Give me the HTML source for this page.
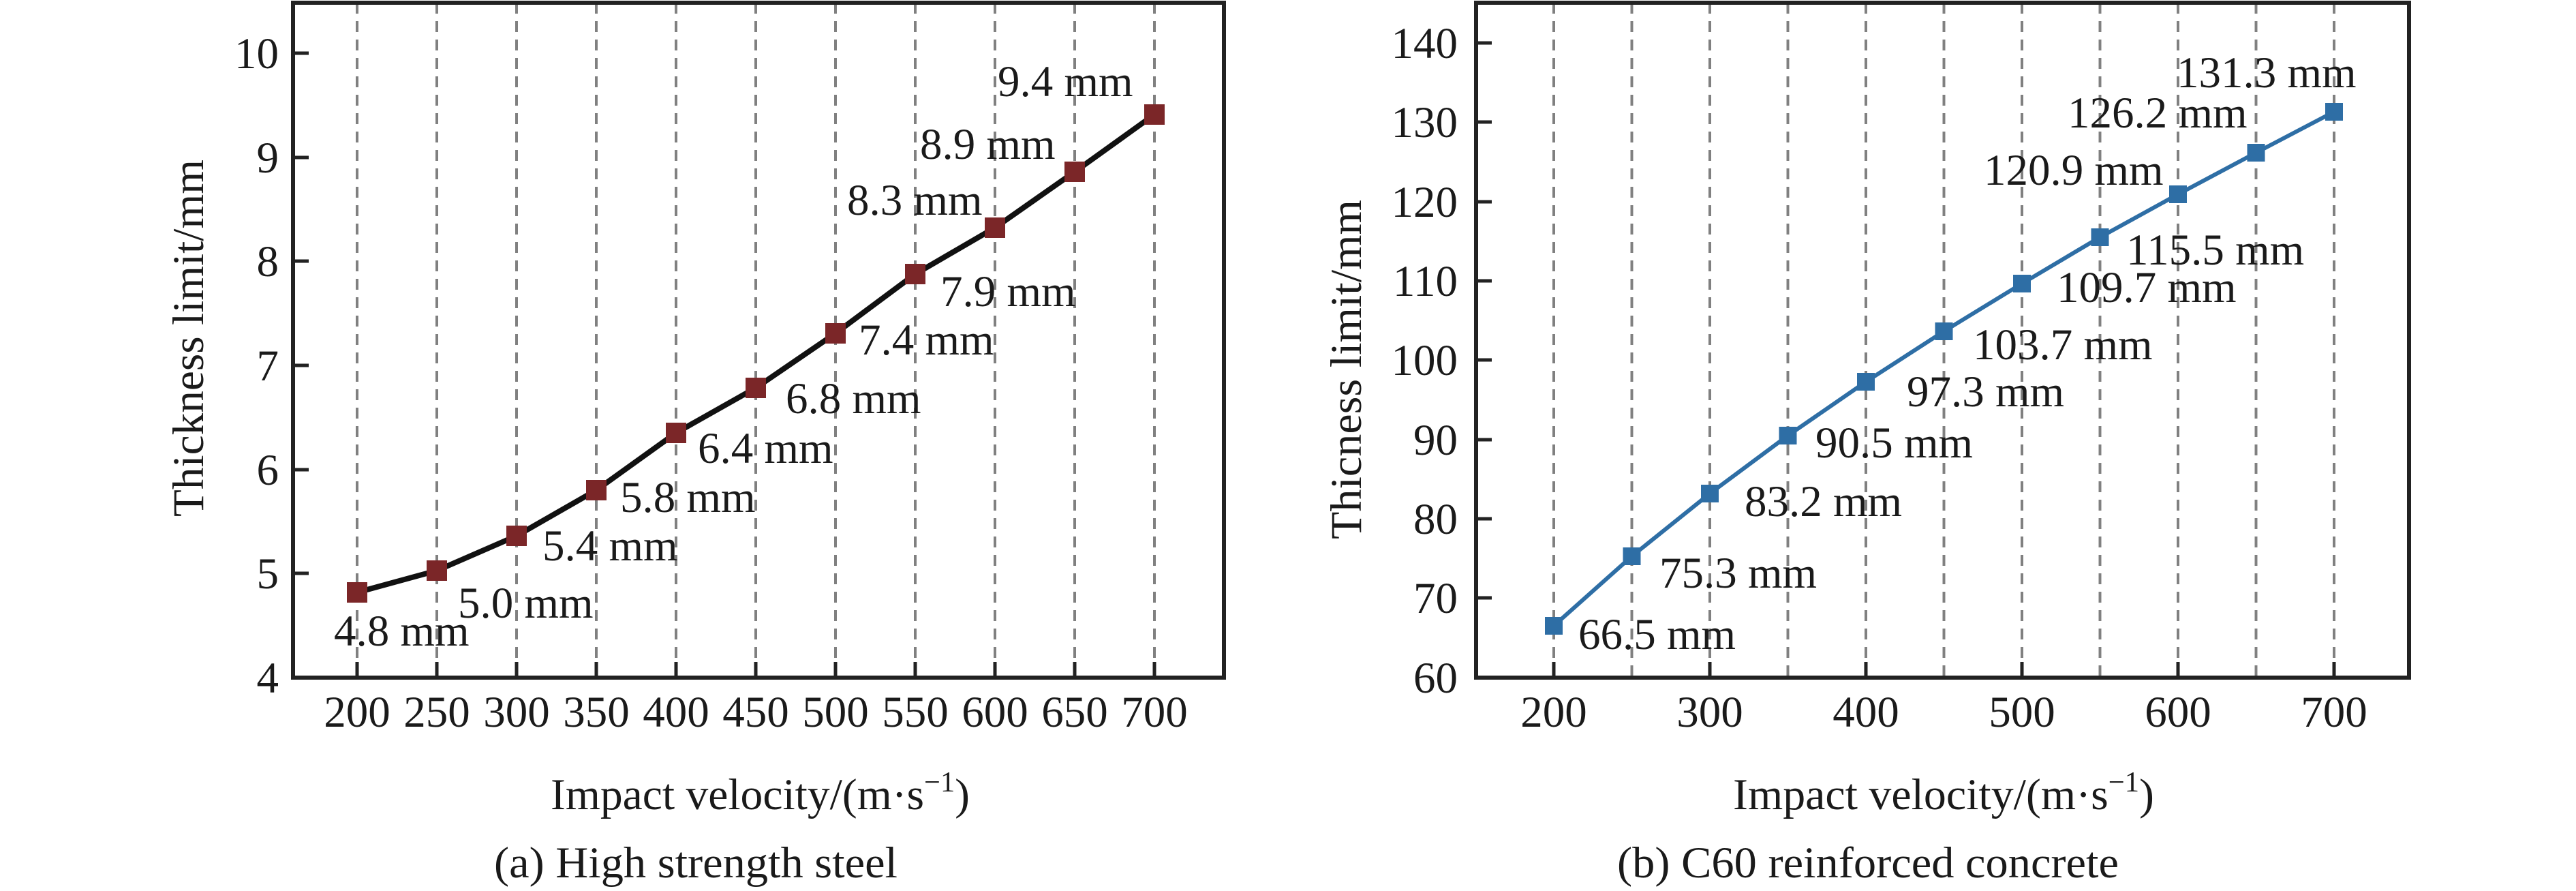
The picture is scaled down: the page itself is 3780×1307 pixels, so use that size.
<!DOCTYPE html>
<html><head><meta charset="utf-8"><style>
html,body{margin:0;padding:0;background:#fff;}
svg{display:block;}
text{font-family:"Liberation Serif",serif;fill:#1a1a1a;}
</style></head><body>
<svg width="3780" height="1307" viewBox="0 0 3780 1307" xmlns="http://www.w3.org/2000/svg">
<!-- LEFT PLOT -->
<g stroke="#808080" stroke-width="4" stroke-dasharray="16,11">
<line x1="524" y1="4" x2="524" y2="994"/><line x1="641" y1="4" x2="641" y2="994"/><line x1="758" y1="4" x2="758" y2="994"/><line x1="875" y1="4" x2="875" y2="994"/><line x1="992" y1="4" x2="992" y2="994"/><line x1="1109" y1="4" x2="1109" y2="994"/><line x1="1226" y1="4" x2="1226" y2="994"/><line x1="1343" y1="4" x2="1343" y2="994"/><line x1="1460" y1="4" x2="1460" y2="994"/><line x1="1577" y1="4" x2="1577" y2="994"/><line x1="1694" y1="4" x2="1694" y2="994"/>
</g>
<g stroke="#222" stroke-width="5">
<line x1="524" y1="994" x2="524" y2="971"/><line x1="641" y1="994" x2="641" y2="971"/><line x1="758" y1="994" x2="758" y2="971"/><line x1="875" y1="994" x2="875" y2="971"/><line x1="992" y1="994" x2="992" y2="971"/><line x1="1109" y1="994" x2="1109" y2="971"/><line x1="1226" y1="994" x2="1226" y2="971"/><line x1="1343" y1="994" x2="1343" y2="971"/><line x1="1460" y1="994" x2="1460" y2="971"/><line x1="1577" y1="994" x2="1577" y2="971"/><line x1="1694" y1="994" x2="1694" y2="971"/>
<line x1="430" y1="78" x2="453" y2="78"/><line x1="430" y1="231" x2="453" y2="231"/><line x1="430" y1="383" x2="453" y2="383"/><line x1="430" y1="536" x2="453" y2="536"/><line x1="430" y1="689" x2="453" y2="689"/><line x1="430" y1="841" x2="453" y2="841"/>
</g>
<rect x="430" y="4" width="1366" height="990" fill="none" stroke="#222" stroke-width="6"/>
<polyline fill="none" stroke="#111" stroke-width="8" points="524,869 641,837 758,786 875,719 992,635 1109,569 1226,489 1343,402 1460,334 1577,252 1694,168"/>
<g fill="#7b2628">
<rect x="509" y="854" width="30" height="30"/><rect x="626" y="822" width="30" height="30"/><rect x="743" y="771" width="30" height="30"/><rect x="860" y="704" width="30" height="30"/><rect x="977" y="620" width="30" height="30"/><rect x="1094" y="554" width="30" height="30"/><rect x="1211" y="474" width="30" height="30"/><rect x="1328" y="387" width="30" height="30"/><rect x="1445" y="319" width="30" height="30"/><rect x="1562" y="237" width="30" height="30"/><rect x="1679" y="153" width="30" height="30"/>
</g>
<g font-size="65">
<text x="490" y="947">4.8 mm</text><text x="672" y="906">5.0 mm</text><text x="796" y="822">5.4 mm</text><text x="910" y="751">5.8 mm</text><text x="1024" y="679">6.4 mm</text><text x="1153" y="606">6.8 mm</text><text x="1260" y="520">7.4 mm</text><text x="1380" y="449">7.9 mm</text><text x="1243" y="315">8.3 mm</text><text x="1350" y="233">8.9 mm</text><text x="1464" y="141">9.4 mm</text>
</g>
<g font-size="65" text-anchor="end">
<text x="409" y="100">10</text><text x="409" y="253">9</text><text x="409" y="405">8</text><text x="409" y="558">7</text><text x="409" y="711">6</text><text x="409" y="863">5</text><text x="409" y="1016">4</text>
</g>
<g font-size="65" text-anchor="middle">
<text x="524" y="1066">200</text><text x="641" y="1066">250</text><text x="758" y="1066">300</text><text x="875" y="1066">350</text><text x="992" y="1066">400</text><text x="1109" y="1066">450</text><text x="1226" y="1066">500</text><text x="1343" y="1066">550</text><text x="1460" y="1066">600</text><text x="1577" y="1066">650</text><text x="1694" y="1066">700</text>
</g>
<text font-size="65" x="808" y="1187" textLength="615" lengthAdjust="spacingAndGlyphs">Impact velocity/(m·s<tspan font-size="42" dy="-26">−1</tspan><tspan dy="26">)</tspan></text>
<text font-size="65" x="725" y="1287" textLength="592" lengthAdjust="spacingAndGlyphs">(a) High strength steel</text>
<text font-size="65" transform="translate(298,758) rotate(-90)" textLength="524" lengthAdjust="spacingAndGlyphs">Thickness limit/mm</text>

<!-- RIGHT PLOT -->
<g stroke="#808080" stroke-width="4" stroke-dasharray="16,11">
<line x1="2280" y1="4" x2="2280" y2="994"/><line x1="2394.5" y1="4" x2="2394.5" y2="994"/><line x1="2509" y1="4" x2="2509" y2="994"/><line x1="2623.5" y1="4" x2="2623.5" y2="994"/><line x1="2738" y1="4" x2="2738" y2="994"/><line x1="2852.5" y1="4" x2="2852.5" y2="994"/><line x1="2967" y1="4" x2="2967" y2="994"/><line x1="3081.5" y1="4" x2="3081.5" y2="994"/><line x1="3196" y1="4" x2="3196" y2="994"/><line x1="3310.5" y1="4" x2="3310.5" y2="994"/><line x1="3425" y1="4" x2="3425" y2="994"/>
</g>
<g stroke="#222" stroke-width="5">
<line x1="2280" y1="994" x2="2280" y2="971"/><line x1="2509" y1="994" x2="2509" y2="971"/><line x1="2738" y1="994" x2="2738" y2="971"/><line x1="2967" y1="994" x2="2967" y2="971"/><line x1="3196" y1="994" x2="3196" y2="971"/><line x1="3425" y1="994" x2="3425" y2="971"/>
<line x1="2166" y1="63" x2="2189" y2="63"/><line x1="2166" y1="179" x2="2189" y2="179"/><line x1="2166" y1="296" x2="2189" y2="296"/><line x1="2166" y1="412" x2="2189" y2="412"/><line x1="2166" y1="528" x2="2189" y2="528"/><line x1="2166" y1="645" x2="2189" y2="645"/><line x1="2166" y1="761" x2="2189" y2="761"/><line x1="2166" y1="877" x2="2189" y2="877"/>
</g>
<rect x="2166" y="4" width="1369" height="990" fill="none" stroke="#222" stroke-width="6"/>
<polyline fill="none" stroke="#2e6ea5" stroke-width="6" points="2280,918 2394.5,816 2509,724 2623.5,639 2738,560 2852.5,486 2967,416 3081.5,348 3196,285 3310.5,224 3425,164"/>
<g fill="#2e6ea5">
<rect x="2267" y="905" width="26" height="26"/><rect x="2381.5" y="803" width="26" height="26"/><rect x="2496" y="711" width="26" height="26"/><rect x="2610.5" y="626" width="26" height="26"/><rect x="2725" y="547" width="26" height="26"/><rect x="2839.5" y="473" width="26" height="26"/><rect x="2954" y="403" width="26" height="26"/><rect x="3068.5" y="335" width="26" height="26"/><rect x="3183" y="272" width="26" height="26"/><rect x="3297.5" y="211" width="26" height="26"/><rect x="3412" y="151" width="26" height="26"/>
</g>
<g font-size="65">
<text x="2316" y="952">66.5 mm</text><text x="2435" y="862">75.3 mm</text><text x="2560" y="757">83.2 mm</text><text x="2664" y="671">90.5 mm</text><text x="2798" y="596">97.3 mm</text><text x="2895" y="527">103.7 mm</text><text x="3018" y="443">109.7 mm</text><text x="3120" y="388">115.5 mm</text><text x="2911" y="271">120.9 mm</text><text x="3034" y="187">126.2 mm</text><text x="3194" y="128">131.3 mm</text>
</g>
<g font-size="65" text-anchor="end">
<text x="2139" y="85">140</text><text x="2139" y="201">130</text><text x="2139" y="318">120</text><text x="2139" y="434">110</text><text x="2139" y="550">100</text><text x="2139" y="667">90</text><text x="2139" y="783">80</text><text x="2139" y="899">70</text><text x="2139" y="1016">60</text>
</g>
<g font-size="65" text-anchor="middle">
<text x="2280" y="1066">200</text><text x="2509" y="1066">300</text><text x="2738" y="1066">400</text><text x="2967" y="1066">500</text><text x="3196" y="1066">600</text><text x="3425" y="1066">700</text>
</g>
<text font-size="65" x="2543" y="1187" textLength="618" lengthAdjust="spacingAndGlyphs">Impact velocity/(m·s<tspan font-size="42" dy="-26">−1</tspan><tspan dy="26">)</tspan></text>
<text font-size="65" x="2373" y="1287" textLength="736" lengthAdjust="spacingAndGlyphs">(b) C60 reinforced concrete</text>
<text font-size="65" transform="translate(1997,791) rotate(-90)" textLength="498" lengthAdjust="spacingAndGlyphs">Thicness limit/mm</text>
</svg>
</body></html>
